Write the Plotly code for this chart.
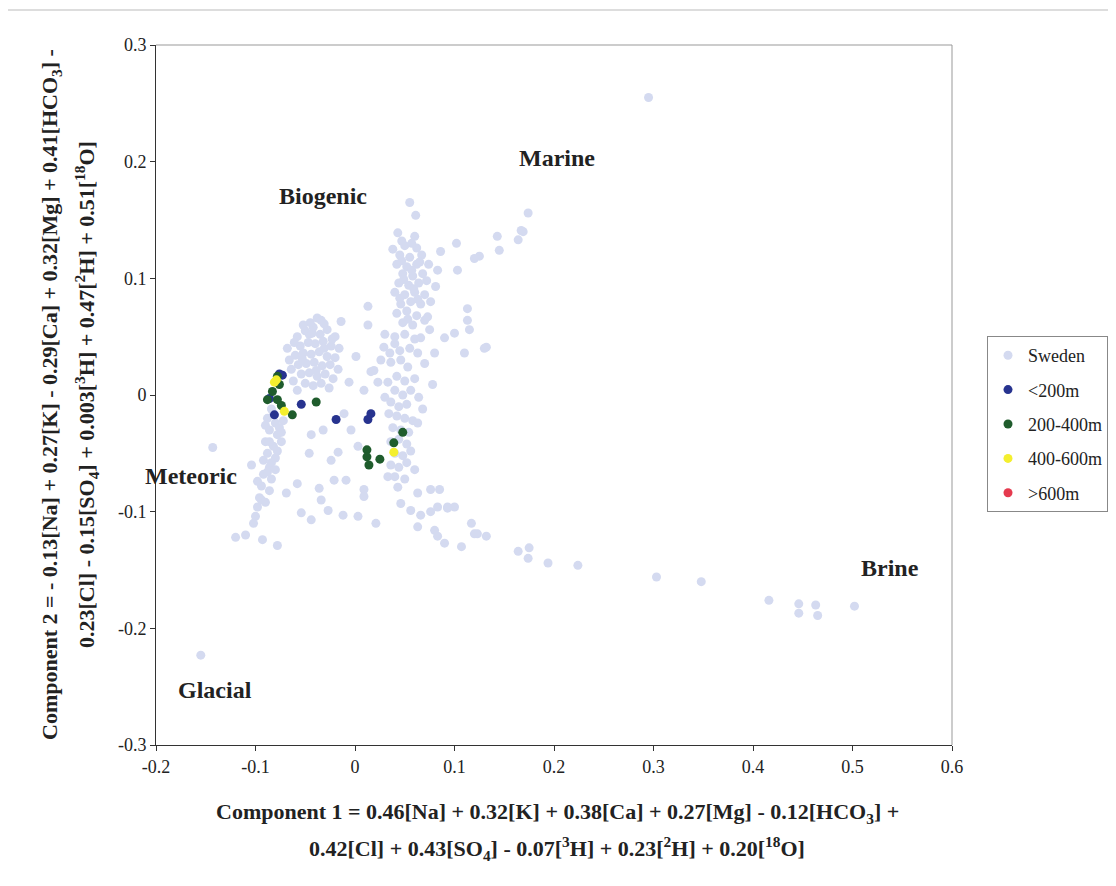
import plotly.graph_objects as go

# ---------------- data ----------------
sweden_x = [
    # biogenic cluster
    -0.058, -0.050, -0.042, -0.035, -0.028, -0.020,
    -0.055, -0.047, -0.040, -0.032, -0.024, -0.016,
    -0.060, -0.052, -0.044, -0.036, -0.028, -0.020,
    -0.057, -0.049, -0.041, -0.033, -0.025, -0.017,
    -0.054, -0.046, -0.038, -0.030, -0.022,
    -0.050, -0.042, -0.034, -0.026,
    -0.062, -0.064, -0.066, -0.045, -0.038,
    -0.068, -0.061, -0.053, -0.046, -0.039, -0.031, -0.023, -0.058, -0.052,
    # scatter near biogenic
    -0.031, -0.014, 0.013, 0.013, 0.001, 0.016, 0.023, -0.006, 0.009, -0.043, -0.034,
    # left column below zero
    -0.088, -0.080, -0.072, -0.086, -0.078, -0.090, -0.082, -0.074, -0.088, -0.080,
    -0.086, -0.092, -0.084, -0.094, -0.086, -0.096, -0.098, -0.100, -0.102, -0.110,
    -0.093, -0.078, -0.069, -0.058, -0.046, -0.054, -0.044, -0.036, -0.034, -0.024,
    -0.027, -0.021, -0.017, -0.009, -0.012, 0.003, 0.009, 0.009, 0.021, -0.011,
    -0.004, 0.003, -0.044, -0.032, -0.120, -0.104,
    -0.084, -0.076, -0.090, -0.082, -0.074, -0.086, -0.078, -0.092, -0.084, -0.088,
    -0.080, -0.094, -0.090, -0.098,
    # middle column top
    0.043, 0.060, 0.050, 0.062, 0.045, 0.055, 0.067, 0.042, 0.052, 0.062,
    0.048, 0.058, 0.068, 0.044, 0.054, 0.064, 0.040, 0.050, 0.060, 0.070,
    0.046, 0.056, 0.066, 0.042, 0.052, 0.062, 0.048, 0.058, 0.070, 0.055,
    0.061, 0.074, 0.072, 0.038,
    0.047, 0.057, 0.065, 0.049, 0.059, 0.045, 0.053, 0.063, 0.047, 0.057,
    # middle column centre
    0.030, 0.040, 0.050, 0.060, 0.066, 0.090, 0.100, 0.075, 0.040, 0.029,
    0.035, 0.045, 0.055, 0.063, 0.080, 0.026, 0.036, 0.046, 0.070, 0.053,
    0.019, 0.033, 0.042, 0.050, 0.060, 0.078, 0.040, 0.048, 0.056, 0.064,
    # middle column lower
    0.036, 0.044, 0.052, 0.034, 0.042, 0.050, 0.058, 0.063, 0.038, 0.046,
    0.054, 0.036, 0.044, 0.052, 0.040, 0.048, 0.056, 0.036, 0.044, 0.052,
    0.060, 0.033, 0.043, 0.063, 0.076, 0.085, 0.040, 0.050, 0.030, 0.068,
    # lower right spread
    0.046, 0.056, 0.066, 0.076, 0.083, 0.093, 0.100, 0.063, 0.080, 0.083,
    0.090, 0.107, 0.117, 0.123, 0.132, 0.120, 0.093,
    # upper right scatter
    0.086, 0.102, 0.143, 0.145, 0.164, 0.125, 0.103, 0.083, 0.081, 0.076,
    0.113, 0.113, 0.073, 0.115, 0.132, 0.110, 0.174, 0.169, 0.120, 0.130,
    0.167,
    # outliers and brine tail
    -0.143, -0.155, 0.295,
    0.164, 0.175, 0.174, 0.194, 0.224, 0.303, 0.348, 0.416, 0.446, 0.446,
    0.463, 0.465, 0.502,
]
sweden_y = [
    # biogenic cluster
    0.050, 0.055, 0.058, 0.052, 0.056, 0.050,
    0.042, 0.045, 0.044, 0.046, 0.042, 0.040,
    0.034, 0.036, 0.035, 0.037, 0.033, 0.032,
    0.026, 0.027, 0.028, 0.025, 0.026, 0.022,
    0.018, 0.019, 0.016, 0.018, 0.014,
    0.010, 0.008, 0.010, 0.006,
    0.012, 0.022, 0.030, 0.062, 0.066,
    0.040, 0.045, 0.031, 0.052, 0.021, 0.040, 0.048, 0.004, 0.060,
    # scatter near biogenic
    0.061, 0.063, 0.076, 0.060, 0.033, 0.020, 0.011, 0.011, 0.004, 0.053, 0.064,
    # left column below zero
    -0.020, -0.024, -0.022, -0.030, -0.034, -0.040, -0.044, -0.040, -0.050, -0.054,
    -0.062, -0.068, -0.072, -0.078, -0.082, -0.088, -0.096, -0.104, -0.110, -0.120,
    -0.124, -0.129, -0.084, -0.076, -0.050, -0.101, -0.107, -0.080, -0.090, -0.056,
    -0.099, -0.073, -0.049, -0.073, -0.103, -0.104, -0.081, -0.087, -0.110, -0.016,
    -0.030, -0.044, -0.034, -0.030, -0.122, -0.060,
    -0.012, -0.028, -0.026, -0.016, -0.032, -0.040, -0.048, -0.056, -0.058, -0.066,
    -0.064, -0.090, -0.092, -0.074,
    # middle column top
    0.139, 0.136, 0.128, 0.126, 0.120, 0.118, 0.120, 0.112, 0.110, 0.112,
    0.104, 0.102, 0.104, 0.096, 0.094, 0.096, 0.088, 0.086, 0.088, 0.086,
    0.078, 0.080, 0.078, 0.070, 0.072, 0.068, 0.062, 0.060, 0.064, 0.165,
    0.154, 0.112, 0.098, 0.125,
    0.132, 0.130, 0.114, 0.099, 0.091, 0.083, 0.065, 0.082, 0.115, 0.107,
    # middle column centre
    0.052, 0.050, 0.052, 0.048, 0.049, 0.049, 0.053, 0.056, 0.044, 0.041,
    0.036, 0.038, 0.040, 0.036, 0.036, 0.030, 0.028, 0.030, 0.027, 0.024,
    0.021, 0.011, 0.016, 0.012, 0.014, 0.009, 0.004, 0.000, 0.004, -0.002,
    # middle column lower
    -0.006, -0.010, -0.008, -0.016, -0.018, -0.020, -0.022, -0.024, -0.028, -0.030,
    -0.032, -0.040, -0.038, -0.042, -0.050, -0.052, -0.048, -0.060, -0.062, -0.058,
    -0.064, -0.070, -0.079, -0.084, -0.081, -0.081, -0.070, -0.072, -0.002, -0.012,
    # lower right spread
    -0.093, -0.099, -0.103, -0.100, -0.096, -0.097, -0.096, -0.113, -0.116, -0.121,
    -0.127, -0.130, -0.110, -0.119, -0.121, -0.119, -0.096,
    # upper right scatter
    0.123, 0.130, 0.136, 0.124, 0.133, 0.119, 0.107, 0.107, 0.093, 0.080,
    0.074, 0.064, 0.067, 0.056, 0.041, 0.036, 0.156, 0.140, 0.117, 0.040,
    0.141,
    # outliers and brine tail
    -0.045, -0.223, 0.255,
    -0.134, -0.131, -0.140, -0.144, -0.146, -0.156, -0.160, -0.176, -0.179, -0.187,
    -0.180, -0.189, -0.181,
]

lt200_x = [-0.073, -0.086, -0.081, -0.054, -0.019, 0.016, 0.013, -0.076]
lt200_y = [0.017, -0.003, -0.017, -0.008, -0.021, -0.016, -0.021, 0.018]

m200_400_x = [-0.078, -0.083, -0.078, -0.074, -0.063, -0.039, 0.048, 0.039, 0.012, 0.012, 0.014, 0.025, -0.076, -0.088]
m200_400_y = [0.016, 0.003, -0.004, -0.009, -0.017, -0.006, -0.032, -0.041, -0.047, -0.053, -0.060, -0.055, 0.009, -0.004]

m400_600_x = [-0.081, -0.071, 0.039, -0.079]
m400_600_y = [0.011, -0.014, -0.049, 0.013]

gt600_x = [None]
gt600_y = [None]

x_ticks = [-0.2, -0.1, 0, 0.1, 0.2, 0.3, 0.4, 0.5, 0.6]
x_tick_labels = ["-0.2", "-0.1", "0", "0.1", "0.2", "0.3", "0.4", "0.5", "0.6"]
y_ticks = [-0.3, -0.2, -0.1, 0, 0.1, 0.2, 0.3]
y_tick_labels = ["-0.3", "-0.2", "-0.1", "0", "0.1", "0.2", "0.3"]

region_labels = ["Biogenic", "Marine", "Meteoric", "Brine", "Glacial"]
region_x = [-0.032, 0.203, -0.165, 0.538, -0.141]
region_y = [0.171, 0.203, -0.069, -0.148, -0.253]

x_title_lines = [
    "Component 1 = 0.46[Na] + 0.32[K] + 0.38[Ca] + 0.27[Mg] - 0.12[HCO<sub>3</sub>] +",
    "0.42[Cl] + 0.43[SO<sub>4</sub>] - 0.07[<sup>3</sup>H] + 0.23[<sup>2</sup>H] + 0.20[<sup>18</sup>O]",
]
y_title_lines = [
    "Component 2 = - 0.13[Na] + 0.27[K] - 0.29[Ca] + 0.32[Mg] + 0.41[HCO<sub>3</sub>] -",
    "0.23[Cl] - 0.15[SO<sub>4</sub>] + 0.003[<sup>3</sup>H] + 0.47[<sup>2</sup>H] + 0.51[<sup>18</sup>O]",
]

# ---------------- figure ----------------
SERIF = "Liberation Serif, Times New Roman, serif"
TXT = "#222"

fig = go.Figure()
fig.add_trace(go.Scatter(x=sweden_x, y=sweden_y, mode="markers", name="Sweden",
                         legendgroup="a",
                         marker=dict(size=9, color="rgb(212,218,240)", line=dict(width=0))))
fig.add_trace(go.Scatter(x=lt200_x, y=lt200_y, mode="markers", name="<200m",
                         legendgroup="b",
                         marker=dict(size=9, color="#27338f", line=dict(width=0))))
fig.add_trace(go.Scatter(x=m200_400_x, y=m200_400_y, mode="markers", name="200-400m",
                         legendgroup="c",
                         marker=dict(size=9, color="#1f5c2c", line=dict(width=0))))
fig.add_trace(go.Scatter(x=m400_600_x, y=m400_600_y, mode="markers", name="400-600m",
                         legendgroup="d",
                         marker=dict(size=9, color="#f4ef2e", line=dict(width=0))))
fig.add_trace(go.Scatter(x=gt600_x, y=gt600_y, mode="markers", name=">600m",
                         legendgroup="e", showlegend=True,
                         marker=dict(size=9, color="#e53a4e", line=dict(width=0))))

for t, xv, yv in zip(region_labels, region_x, region_y):
    fig.add_annotation(x=xv, y=yv, text="<b>" + t + "</b>", showarrow=False,
                       font=dict(family=SERIF, size=24, color=TXT))

# axis titles as separate lines (reference uses wide line spacing)
PW, PH = 796.0, 700.0   # plot area size in px
for i, line in enumerate(x_title_lines):
    fig.add_annotation(xref="paper", yref="paper", x=(556 - 155) / PW,
                       y=(745 - (813 + 35 * i)) / PH, xanchor="center", yanchor="middle",
                       text="<b>" + line + "</b>", showarrow=False,
                       font=dict(family=SERIF, size=22, color=TXT))
for i, line in enumerate(y_title_lines):
    fig.add_annotation(xref="paper", yref="paper", x=((50 + 35 * i) - 155) / PW,
                       y=0.5, xanchor="center", yanchor="middle", textangle=-90,
                       text="<b>" + line + "</b>", showarrow=False,
                       font=dict(family=SERIF, size=22, color=TXT))

fig.update_layout(
    width=1108, height=878,
    paper_bgcolor="white", plot_bgcolor="white",
    margin=dict(l=148, r=164, t=37, b=141, autoexpand=False),
    font=dict(family=SERIF, size=18, color=TXT),
    showlegend=True,
    legend=dict(x=(986 - 155) / PW, y=(745 - 336) / PH, xanchor="left", yanchor="top",
                bordercolor="#888", borderwidth=1, bgcolor="white",
                font=dict(family=SERIF, size=18, color=TXT),
                tracegroupgap=8, itemsizing="trace"),
    xaxis=dict(range=[-0.2, 0.6], tickvals=x_ticks, ticktext=x_tick_labels,
               showgrid=False, zeroline=False, showline=True, linecolor="#333",
               linewidth=1, mirror=False, ticks="outside", ticklen=5, tickcolor="#333",
               automargin=False,
               tickfont=dict(family=SERIF, size=18, color=TXT)),
    yaxis=dict(range=[-0.3, 0.3], tickvals=y_ticks, ticktext=y_tick_labels,
               showgrid=False, zeroline=False, showline=True, linecolor="#333",
               linewidth=1, mirror=False, ticks="outside", ticklen=5, tickcolor="#333",
               automargin=False,
               tickfont=dict(family=SERIF, size=18, color=TXT)),
)

# plot-area frame (top and right edges, light gray)
fig.add_shape(type="line", xref="paper", yref="paper", x0=0, x1=1, y0=1, y1=1,
              line=dict(color="#999", width=1))
fig.add_shape(type="line", xref="paper", yref="paper", x0=1, x1=1, y0=0, y1=1,
              line=dict(color="#999", width=1))
# outer chart frame top edge
fig.add_shape(type="line", xref="paper", yref="paper", x0=-0.2, x1=1.3,
              y0=1 + 35 / PH, y1=1 + 35 / PH, line=dict(color="#bbb", width=1))

fig.write_html("out.html")
